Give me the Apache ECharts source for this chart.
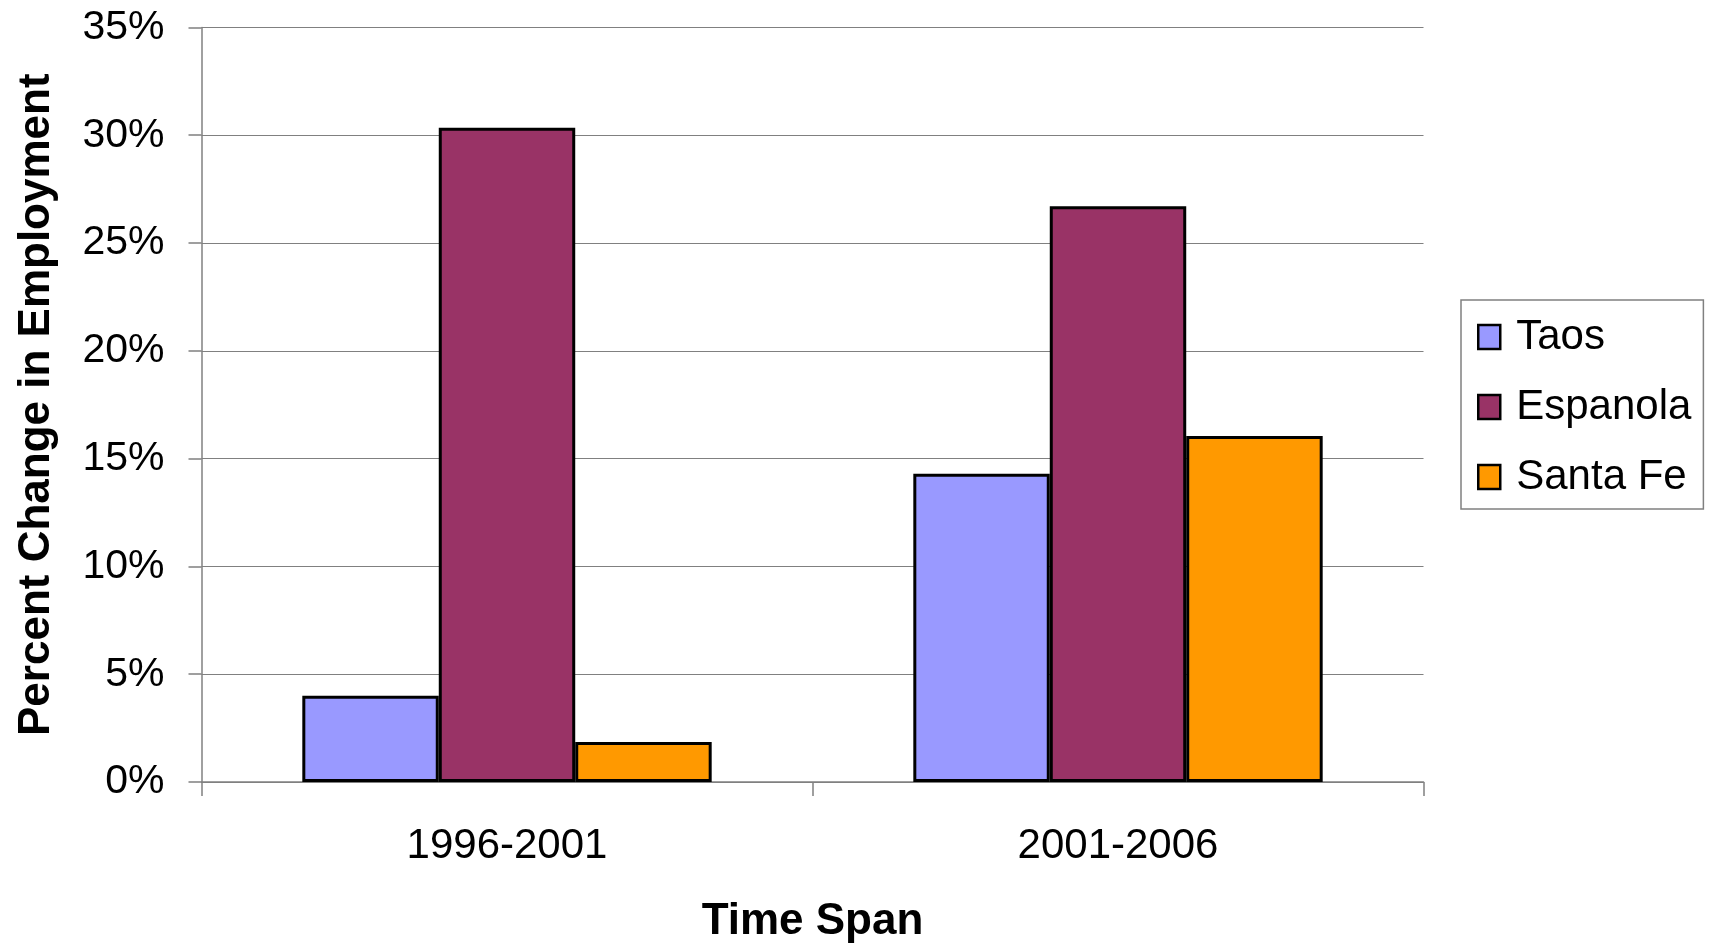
<!DOCTYPE html>
<html>
<head>
<meta charset="utf-8">
<script src="https://cdn.jsdelivr.net/npm/echarts@6/dist/echarts.min.js"></script>
<style>
html,body{margin:0;padding:0;background:#fff;}
#chart{width:1717px;height:947px;}
</style>
</head>
<body>
<div id="chart"></div>
<script>
const categories = ['1996-2001', '2001-2006'];
const taos = [4.0, 14.3];
const espanola = [30.35, 26.7];
const santaFe = [1.85, 16.05];
const seriesNames = ['Taos', 'Espanola', 'Santa Fe'];
const yTicks = {min: 0, max: 35, interval: 5};

const FONT = '"Liberation Sans", Arial, sans-serif';
const chart = echarts.init(document.getElementById('chart'), null, {renderer: 'canvas'});

function bar(name, data, color) {
  return {
    name: name,
    type: 'bar',
    data: data,
    barGap: '0%',
    barCategoryGap: '33%',
    itemStyle: {color: color, borderColor: '#000', borderWidth: 3},
    emphasis: {disabled: true}
  };
}

chart.setOption({
  animation: false,
  backgroundColor: '#fff',
  grid: {left: 201.5, top: 27.4, right: 293.5, bottom: 165, containLabel: false, outerBoundsMode: 'none'},
  legend: {
    orient: 'vertical',
    left: 1461,
    top: 300,
    padding: [16, 12, 11, 16],
    itemWidth: 22,
    itemHeight: 24,
    itemGap: 28,
    borderColor: '#808080',
    borderWidth: 1.5,
    icon: 'rect',
    data: seriesNames,
    itemStyle: {borderWidth: 2.5, borderColor: '#000'},
    textStyle: {fontFamily: FONT, fontSize: 42, color: '#000', lineHeight: 42, padding: [0, 0, 0, 11]}
  },
  xAxis: {
    type: 'category',
    data: categories,
    name: 'Time Span',
    nameLocation: 'middle',
    nameGap: 118,
    nameTextStyle: {fontFamily: FONT, fontSize: 44, fontWeight: 'bold', color: '#000'},
    axisLine: {lineStyle: {color: '#808080', width: 1.5}},
    axisTick: {show: true, length: 14, lineStyle: {color: '#808080', width: 1.5}},
    axisLabel: {fontFamily: FONT, fontSize: 42, color: '#000', margin: 43}
  },
  yAxis: {
    type: 'value',
    min: yTicks.min,
    max: yTicks.max,
    interval: yTicks.interval,
    name: 'Percent Change in Employment',
    nameLocation: 'middle',
    nameGap: 143,
    nameTextStyle: {fontFamily: FONT, fontSize: 44, fontWeight: 'bold', color: '#000'},
    axisLine: {show: true, lineStyle: {color: '#808080', width: 1.5}},
    axisTick: {show: true, length: 13, lineStyle: {color: '#808080', width: 1.5}},
    axisLabel: {fontFamily: FONT, fontSize: 41, color: '#000', margin: 37, formatter: '{value}%'},
    splitLine: {show: true, lineStyle: {color: '#808080', width: 1.2}}
  },
  series: [
    bar(seriesNames[0], taos, '#9999FF'),
    bar(seriesNames[1], espanola, '#993366'),
    bar(seriesNames[2], santaFe, '#FF9900')
  ]
});
</script>
</body>
</html>
